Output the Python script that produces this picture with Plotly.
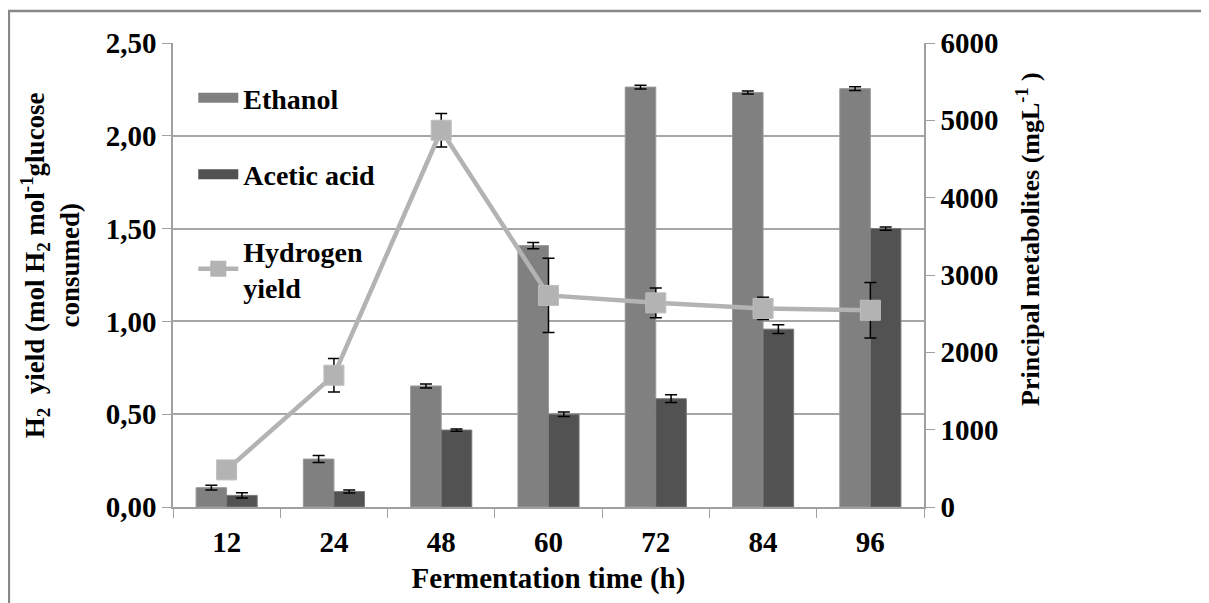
import plotly.graph_objects as go

# ---- data ----
times = ["12", "24", "48", "60", "72", "84", "96"]
ethanol = [250, 620, 1565, 3380, 5430, 5360, 5410]
ethanol_err = [30, 45, 25, 40, 25, 20, 25]
acetic = [150, 200, 995, 1200, 1400, 2300, 3600]
acetic_err = [35, 20, 15, 30, 50, 58, 20]
h2_yield = [0.20, 0.71, 2.03, 1.14, 1.10, 1.07, 1.06]
h2_err = [0.02, 0.09, 0.09, 0.20, 0.08, 0.06, 0.15]

left_ticks = [0, 0.5, 1.0, 1.5, 2.0, 2.5]
right_ticks = [0, 1000, 2000, 3000, 4000, 5000, 6000]

FONT = "Liberation Serif"
GRID = "#a6a6a6"
AXIS = "#a0a0a0"
ETH_C = "#808080"
ACE_C = "#525252"
H2_C = "#b3b3b3"
TICK_FS = 29
LEG_FS = 28
TITLE_FS = 27

fig = go.Figure()

fig.add_trace(go.Bar(
    x=times, y=ethanol, name="Ethanol", yaxis="y", showlegend=False,
    marker=dict(color=ETH_C, line=dict(color="#9a9a9a", width=1)),
    error_y=dict(type="data", array=ethanol_err, color="black", thickness=1.5, width=6),
))
fig.add_trace(go.Bar(
    x=times, y=acetic, name="Acetic acid", yaxis="y", showlegend=False,
    marker=dict(color=ACE_C, line=dict(color="#7a7a7a", width=1)),
    error_y=dict(type="data", array=acetic_err, color="black", thickness=1.5, width=6),
))
fig.add_trace(go.Scatter(
    x=times, y=h2_yield, name="Hydrogen<br>yield", yaxis="y2", showlegend=False,
    mode="lines+markers",
    line=dict(color=H2_C, width=4.5),
    marker=dict(symbol="square", size=20, color=H2_C, line=dict(color="#bdbdbd", width=1)),
    error_y=dict(type="data", array=h2_err, color="black", thickness=1.5, width=6),
))

# legend entries (no data; styled like the reference legend keys)
fig.add_trace(go.Scatter(x=[None], y=[None], name="Ethanol", mode="lines",
                         line=dict(color=ETH_C, width=13), legendgroup="a", yaxis="y"))
fig.add_trace(go.Scatter(x=[None], y=[None], name="Acetic acid", mode="lines",
                         line=dict(color=ACE_C, width=13), legendgroup="b", yaxis="y"))
fig.add_trace(go.Scatter(x=[None], y=[None], name="Hydrogen<br>yield", mode="lines+markers",
                         line=dict(color=H2_C, width=4.5),
                         marker=dict(symbol="square", size=16, color=H2_C),
                         legendgroup="c", yaxis="y2"))

fig.update_layout(
    width=1201, height=595,
    margin=dict(l=165, r=285, t=35, b=96),
    paper_bgcolor="white", plot_bgcolor="white",
    font=dict(family=FONT, size=TICK_FS, color="black", weight="bold"),
    separators=",.",
    barmode="group", bargap=0.43, bargroupgap=0,
    showlegend=True,
    legend=dict(x=0.027, y=0.935, xanchor="left", yanchor="top",
                font=dict(family=FONT, size=LEG_FS, weight="bold"),
                tracegroupgap=37, bgcolor="rgba(0,0,0,0)", itemwidth=40),
    xaxis=dict(type="category", showline=True, linecolor=AXIS, linewidth=1.5,
               ticks="outside", tickson="boundaries", ticklen=9, tickcolor=AXIS,
               ticklabelstandoff=8, showgrid=False,
               title=dict(text="Fermentation time (h)", standoff=11,
                          font=dict(family=FONT, size=TICK_FS, weight="bold"))),
    yaxis=dict(side="right", range=[0, 6000], tickvals=right_ticks,
               showgrid=False, showline=True, linecolor=AXIS, linewidth=1.5,
               ticks="outside", ticklen=9, tickcolor=AXIS, zeroline=False),
    yaxis2=dict(side="left", overlaying="y", range=[0, 2.5], tickvals=left_ticks,
                tickformat=".2f", showgrid=True, gridcolor=GRID, gridwidth=1.5,
                showline=True, linecolor=AXIS, linewidth=1.5,
                ticks="outside", ticklen=9, tickcolor=AXIS, zeroline=False),
    annotations=[
        dict(text="H<sub>2</sub>  yield (mol H<sub>2</sub> mol<sup>-1</sup>glucose<br>consumed)",
             xref="paper", yref="paper", x=-0.163, y=0.52, textangle=-90,
             showarrow=False, xanchor="center", yanchor="middle",
             font=dict(family=FONT, size=TITLE_FS, weight="bold")),
        dict(text="Principal metabolites (mgL<sup>-1</sup> )",
             xref="paper", yref="paper", x=1.140, y=0.578, textangle=-90,
             showarrow=False, xanchor="center", yanchor="middle",
             font=dict(family=FONT, size=TITLE_FS - 1, weight="bold")),
    ],
    shapes=[
        dict(type="rect", xref="paper", yref="paper", x0=-0.2184, x1=1.6, y0=-0.6, y1=1.069,
             line=dict(color="#888888", width=2.3), fillcolor="rgba(0,0,0,0)", layer="below"),
    ],
)

fig.write_html("out.html")
